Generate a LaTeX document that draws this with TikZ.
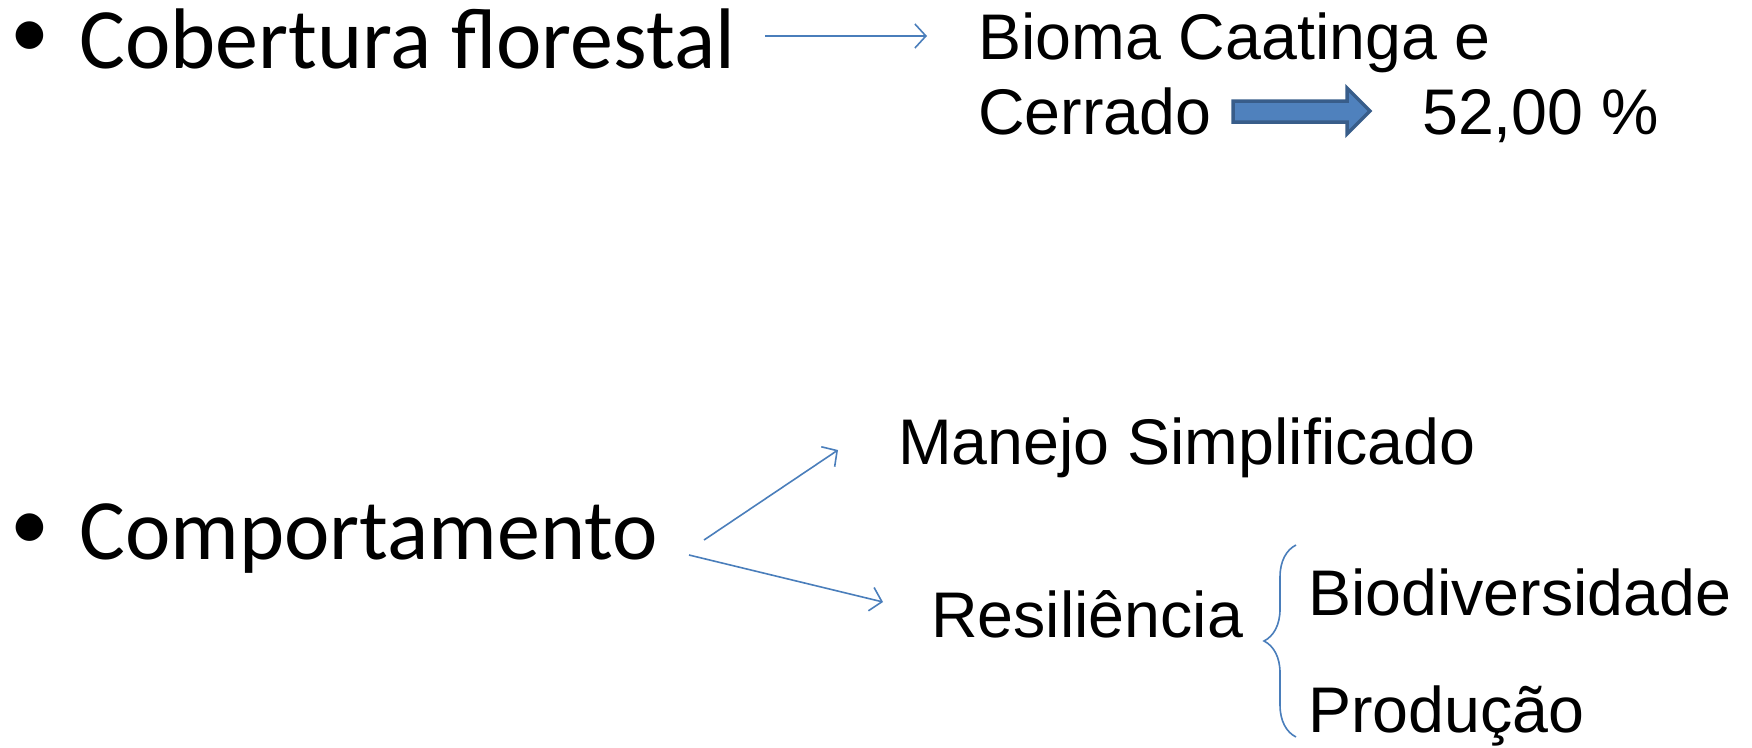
\documentclass[tikz,border=0pt]{standalone}
\usepackage{fontspec}
\setmainfont{Liberation Sans}
\newfontfamily\calfont{Carlito}
\usetikzlibrary{arrows.meta, positioning, decorations.pathreplacing}

\definecolor{pptblue}{HTML}{4A7EBB}
\definecolor{arrowfill}{HTML}{4F81BD}
\definecolor{arrowline}{HTML}{385D8A}

\begin{document}
\begin{tikzpicture}[
    x=1pt, y=-1pt,
    topic/.style={anchor=base west, inner sep=0pt, font=\calfont\fontsize{86}{96}\selectfont},
    bullet/.style={anchor=base west, inner sep=0pt, font=\calfont\fontsize{78}{88}\selectfont},
    item/.style={anchor=base west, inner sep=0pt, font=\fontsize{64.5}{74}\selectfont},
    link/.style={-{Straight Barb[length=11pt, width=24pt]}, pptblue, line width=1.6pt},
    blockarrow/.style={fill=arrowfill, draw=arrowline, line width=3.5pt, line join=miter},
    brace/.style={decorate, decoration={brace, amplitude=32pt}, pptblue, line width=1.6pt}
]
\useasboundingbox (0,0) rectangle (1752,747);

% Row 1: Cobertura florestal
\node[bullet] (dot1) at (10,57) {•};
\node[topic] (cob) at (79,68) {Cobertura florestal};
\node[item] (bioma) at (978,59) {Bioma Caatinga e};
\node[item, below=75pt of bioma.base west, anchor=base west] (cerrado) {Cerrado};
\node[item] (pct) at (1422,134) {52,00 \%};

% Row 2: Comportamento
\node[bullet] (dot2) at (10,549) {•};
\node[topic] (comp) at (79,559) {Comportamento};
\node[item] (manejo) at (898,464) {Manejo Simplificado};
\node[item] (resil) at (931,637) {Resiliência};
\node[item] (bio) at (1308,615) {Biodiversidade};
\node[item, below=117pt of bio.base west, anchor=base west] (prod) {Produção};

% free ends of the thin arrows
\coordinate (a1s) at (765,36);
\coordinate (a1e) at (927,36);
\coordinate (ups) at (704,540);
\coordinate (upe) at (838,450);
\coordinate (dns) at (689,555);
\coordinate (dne) at (883,602);

% Arrows
\draw[link] (a1s) -- (a1e);
\draw[link] (ups) -- (upe);
\draw[link] (dns) -- (dne);

% Block arrow
\draw[blockarrow] (1233,101) -- (1347,101) -- (1347,88) -- (1370,111)
    -- (1347,134) -- (1347,122) -- (1233,122) -- cycle;

% Brace
\draw[brace] (1296,737) -- (1296,545);

\end{tikzpicture}
\end{document}
